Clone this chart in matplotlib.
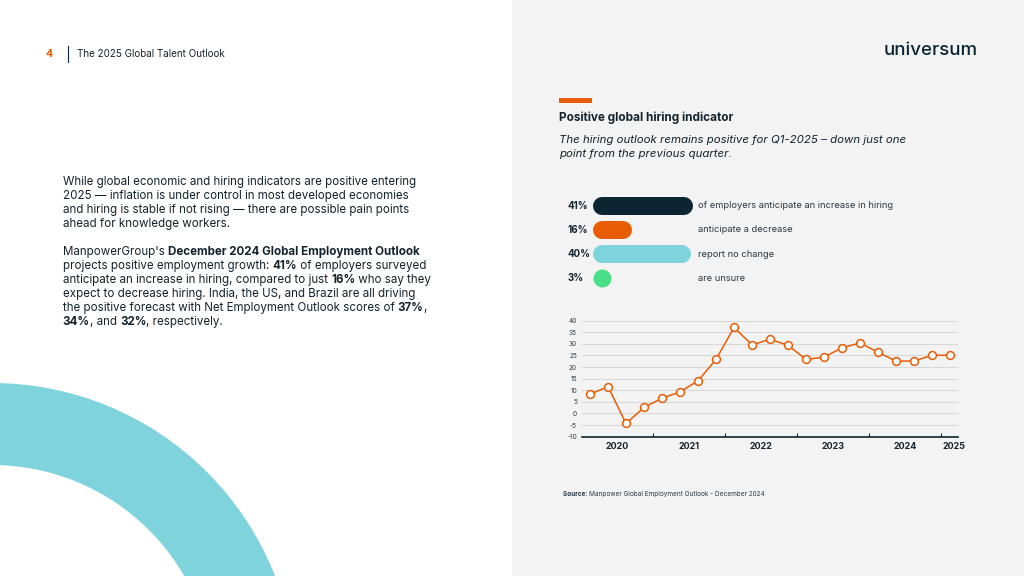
import numpy as np
import matplotlib
matplotlib.use("Agg")
import matplotlib.pyplot as plt
from matplotlib.patches import Rectangle, Wedge

FONT = ["Inter", "DejaVu Sans"]
plt.rcParams["font.family"] = FONT
plt.rcParams["axes.unicode_minus"] = False

NAVY = "#0b2533"
TEXT = "#15232d"
ORANGE = "#e85d04"
LIGHTBLUE = "#7fd3dd"
GREEN = "#4ade88"
PANEL = "#f3f3f3"

# 雇用見通しの内訳（%）
bar_pcts = [41, 16, 40, 3]
bar_colors = [NAVY, ORANGE, LIGHTBLUE, GREEN]
bar_texts = [
    "of employers anticipate an increase in hiring",
    "anticipate a decrease",
    "report no change",
    "are unsure",
]

# 四半期ごとの Net Employment Outlook
quarter_years = [2020] * 4 + [2021] * 4 + [2022] * 4 + [2023] * 4 + [2024] * 4 + [2025]
outlook = [8.3, 11.6, -4.3, 2.6, 6.6, 9.3, 14.1, 23.3, 37.1, 29.6, 32, 29.4,
           23.3, 24.3, 28.3, 30.4, 26.4, 22.6, 22.6, 25.1, 25.1]

fig = plt.figure(figsize=(10.24, 5.76), dpi=100)
renderer = fig.canvas.get_renderer()

# ページ全体（ピクセル座標）
page = fig.add_axes([0, 0, 1, 1])
page.set_xlim(0, 1024)
page.set_ylim(576, 0)
page.axis("off")
page.add_patch(Rectangle((512, 0), 512, 576, color=PANEL, lw=0))
page.add_patch(Wedge((-8, 687), 304, 0, 360, width=82, color=LIGHTBLUE, lw=0))


def text_w(s, size, weight="normal", style="normal"):
    t = page.text(0, 0, "|" + s + "|", fontsize=size, fontweight=weight, fontstyle=style)
    w = t.get_window_extent(renderer).width
    t.remove()
    t = page.text(0, 0, "||", fontsize=size, fontweight=weight, fontstyle=style)
    w -= t.get_window_extent(renderer).width
    t.remove()
    return w


def fit(s, width, weight="normal", style="normal"):
    return 10 * width / text_w(s, 10, weight, style)


def runs(x, y, parts, size, color=TEXT):
    for s, wt in parts:
        page.text(x, y, s, fontsize=size, fontweight=wt, color=color,
                  ha="left", va="baseline")
        x += text_w(s, size, wt)


# ヘッダー
hsize = fit("The 2025 Global Talent Outlook", 148.6)
page.text(46, 57, "4", fontsize=hsize + 0.5, fontweight="bold", color=ORANGE, va="baseline")
page.plot([67.7, 67.7], [45.7, 62.3], color=NAVY, lw=0.8)
page.text(76.7, 57, "The 2025 Global Talent Outlook", fontsize=hsize, color=TEXT, va="baseline")
lsize = fit("universum", 94, "medium")
page.text(883.3, 55, "universum", fontsize=lsize, fontweight="medium", color=NAVY, va="baseline")

# 本文
N, B = "normal", "bold"
para = [
    [("While global economic and hiring indicators are positive entering", N)],
    [("2025 \u2014 inflation is under control in most developed economies", N)],
    [("and hiring is stable if not rising \u2014 there are possible pain points", N)],
    [("ahead for knowledge workers.", N)],
    None,
    [("ManpowerGroup's ", N), ("December 2024 Global Employment Outlook", B)],
    [("projects positive employment growth: ", N), ("41%", B), (" of employers surveyed", N)],
    [("anticipate an increase in hiring, compared to just ", N), ("16%", B), (" who say they", N)],
    [("expect to decrease hiring. India, the US, and Brazil are all driving", N)],
    [("the positive forecast with Net Employment Outlook scores of ", N), ("37%", B), (",", N)],
    [("34%", B), (", and ", N), ("32%", B), (", respectively.", N)],
]
psize = fit(para[0][0][0], 356.7)
y = 184.8
for line in para:
    if line is not None:
        runs(62.7, y, line, psize)
    y += 14.0

# 右パネル見出し
page.add_patch(Rectangle((559, 98), 33, 4.7, color=ORANGE, lw=0))
tsize = fit("Positive global hiring indicator", 174, "bold")
page.text(559, 120.7, "Positive global hiring indicator", fontsize=tsize,
          fontweight="bold", color=TEXT, va="baseline")
sub1 = "The hiring outlook remains positive for Q1-2025 \u2013 down just one"
ssize = fit(sub1, 347.7, style="italic")
page.text(559, 143.3, sub1, fontsize=ssize, fontstyle="italic", color=TEXT, va="baseline")
page.text(559, 157.3, "point from the previous quarter.", fontsize=ssize,
          fontstyle="italic", color=TEXT, va="baseline")

# 横棒（ピル型）
bx = fig.add_axes([593 / 1024, 1 - 290.4 / 576, 200 / 1024, 96.8 / 576])
bx.set_xlim(0, 82)
bx.set_ylim(3.5, -0.5)
bx.axis("off")
px_per = 200 / 82
bar_h = 18
r = bar_h / 2 / px_per
dsize = fit(bar_texts[0], 196)
for i, (v, c, t) in enumerate(zip(bar_pcts, bar_colors, bar_texts)):
    if v - r > r:
        bx.plot([r, v - r], [i, i], color=c, lw=bar_h * 0.72,
                solid_capstyle="round", clip_on=False)
    else:
        bx.plot([r], [i], "o", color=c, ms=bar_h * 0.72, mew=0, clip_on=False)
    bx.text(-10.4, i, f"{v}%", fontsize=dsize + 0.3, fontweight="bold", color=TEXT,
            ha="left", va="center")
    bx.text(43.2, i, t, fontsize=dsize, color="#2a3843", ha="left", va="center")

# 折れ線グラフ
ax = fig.add_axes([581.7 / 1024, 1 - 436.7 / 576, 376.6 / 1024, 116 / 576])
ax.set_facecolor("none")
x = np.arange(len(outlook))
ax.set_xlim(-0.46, 20.46)
ax.set_ylim(-10, 40)
ax.set_yticks(range(-10, 45, 5))
ax.grid(axis="y", color="#d8d8d8", lw=0.8)
ax.set_axisbelow(True)
for s in ["top", "right", "left"]:
    ax.spines[s].set_visible(False)
ax.spines["bottom"].set_color(NAVY)
ax.spines["bottom"].set_linewidth(1.2)
ax.plot(x, outlook, color=ORANGE, lw=1.1, marker="o", ms=5.6, mfc="white",
        mec=ORANGE, mew=1.1, clip_on=False, zorder=3)

years = sorted(set(quarter_years))
qy = np.array(quarter_years)
centers = [x[qy == yr].mean() for yr in years]
centers[-1] += 0.25
bounds = [x[qy == yr].max() + 0.5 for yr in years[:-1]]
ax.set_xticks(centers)
ax.set_xticklabels([str(yr) for yr in years])
ax.set_xticks(bounds, minor=True)
ysize = fit("2020", 23.3, "bold")
ax.tick_params(axis="x", which="major", length=0, pad=4, labelsize=ysize, labelcolor=TEXT)
for lbl in ax.get_xticklabels():
    lbl.set_fontweight("bold")
ax.tick_params(axis="x", which="minor", direction="in", length=3, width=0.8, color=NAVY)
ax.tick_params(axis="y", length=0, pad=3.4, labelsize=fit("40", 8.3), labelcolor="#2b3a45")

# 出典
srcsize = fit("Source: Manpower Global Employment Outlook - December 2024", 207)
runs(563.3, 496, [("Source: ", B), ("Manpower Global Employment Outlook - December 2024", N)],
     srcsize * 0.97, color="#2a3843")

fig.savefig("out.png", dpi=100)
